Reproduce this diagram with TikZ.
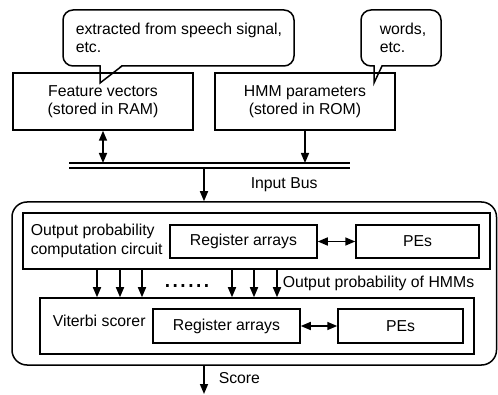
\documentclass[tikz,border=0pt]{standalone}
\usepackage{fontspec}
\setmainfont{Liberation Sans}
\usetikzlibrary{arrows.meta,shapes.misc}
\begin{document}
\begin{tikzpicture}[x=1pt,y=-1pt,
  line width=1.5pt,
  every node/.style={font=\fontsize{15.8}{18.5}\selectfont, inner sep=0pt},
  box/.style={draw, rectangle, inner sep=0pt, align=center},
  bubble/.style={draw, rectangle, rounded corners=10pt, fill=white},
  tip/.style={-{Triangle[length=10pt,width=8pt]}},
  dtip/.style={{Triangle[length=10pt,width=8pt]}-{Triangle[length=10pt,width=8pt]}},
  lbl/.style={anchor=west, align=left}]
\useasboundingbox (0,0) rectangle (498,395);

% speech bubbles
\node[bubble, minimum width=231pt, minimum height=56pt] (b1) at (178.5,38) {};
\node[lbl] (b1t) at (75,38) {extracted from speech signal,\\etc.};
\fill[white] (100.75,65.1) -- (121.5,65.1) -- (100.75,81) -- cycle;
\draw[line join=miter] (100,66) -- (100,83) -- (122,66);

\node[bubble, minimum width=80pt, minimum height=56pt] (b2) at (401,38) {};
\node[lbl] (b2t) at (379,38) {words,\\etc.};
\fill[white] (374.75,65.1) -- (381.5,65.1) -- (374.75,80) -- cycle;
\draw[line join=miter] (374,66) -- (374,83) -- (382,66);

% memories
\node[box, minimum width=180pt, minimum height=57pt] (feat) at (103,101.5) {Feature vectors\\(stored in RAM)};
\node[box, minimum width=180pt, minimum height=57pt] (hmm) at (305,101.5) {HMM parameters\\(stored in ROM)};

% bus
\coordinate (busL) at (69,163);
\coordinate (busR) at (350,163);
\coordinate (busL2) at (69,168);
\coordinate (busR2) at (350,168);
\draw (busL) -- (busR);
\draw (busL2) -- (busR2);
\draw[dtip] (feat.south) -- (feat.south |- busL);
\draw[tip] (hmm.south) -- (hmm.south |- busL);

% outer block
\node[draw, rectangle, rounded corners=15pt, minimum width=484.5pt, minimum height=163pt] (outer) at (254.25,283.5) {};
\coordinate (inb) at (204,168);
\draw[tip] (inb) -- (inb |- outer.north);
\node[lbl] (inlbl) at (250,185) {Input Bus};

% output probability computation circuit
\node[box, minimum width=467pt, minimum height=56pt] (opc) at (256.5,241) {};
\node[lbl] (opct) at (30,241) {Output probability\\computation circuit};
\node[box, minimum width=147pt, minimum height=33pt] (reg1) at (243.5,241.5) {Register arrays};
\node[box, minimum width=123pt, minimum height=33pt] (pe1) at (417.5,241.5) {PEs};
\draw[dtip] (reg1.east) -- (pe1.west);

% viterbi scorer
\node[box, minimum width=434pt, minimum height=56pt] (vit) at (257,326) {};
\node[lbl] (vitt) at (52,321) {Viterbi scorer};
\node[box, minimum width=147pt, minimum height=34pt] (reg2) at (226.5,326) {Register arrays};
\node[box, minimum width=125pt, minimum height=34pt] (pe2) at (400.5,326) {PEs};
\draw[dtip] (reg2.east) -- (pe2.west);

% output probability arrows
\foreach \xx in {97,120,142,232,254,277}
  \draw[tip] (opc.south -| \xx,0) -- (vit.north -| \xx,0);
\node[font=\fontsize{28}{28}\selectfont, anchor=base] (dots) at (187,287.5) {......};
\node[lbl] (oplbl) at (282,283) {Output probability of HMMs};

% score
\coordinate (scoreend) at (204,394);
\draw[tip] (outer.south -| scoreend) -- (scoreend);
\node[lbl] (scl) at (218,378) {Score};
\end{tikzpicture}
\end{document}
